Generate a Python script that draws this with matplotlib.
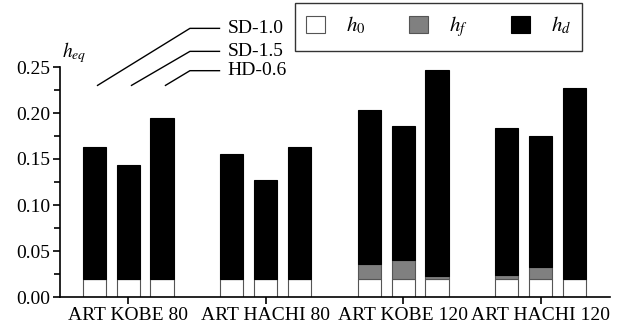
import matplotlib
matplotlib.use("Agg")
import matplotlib.pyplot as plt
import numpy as np

plt.rcParams['font.family'] = ['Liberation Serif', 'DejaVu Serif']
plt.rcParams['mathtext.fontset'] = 'stix'

groups = ['ART KOBE 80', 'ART HACHI 80', 'ART KOBE 120', 'ART HACHI 120']
series = ['SD-1.0', 'SD-1.5', 'HD-0.6']
# total h_eq per bar (group x damper)
total = np.array([[0.163, 0.143, 0.195],
                  [0.155, 0.127, 0.163],
                  [0.203, 0.186, 0.247],
                  [0.184, 0.175, 0.227]])
h0 = np.array([[0.020, 0.020, 0.020],
               [0.020, 0.020, 0.020],
               [0.020, 0.020, 0.020],
               [0.020, 0.020, 0.020]])
hf = np.array([[0.0, 0.0, 0.0],
               [0.0, 0.0, 0.0],
               [0.016, 0.020, 0.003],
               [0.004, 0.013, 0.0]])
hd = total - h0 - hf

fig = plt.figure(figsize=(6.2, 3.34), dpi=100)
ax = fig.add_axes([60/620, 1-297/334, 550/620, 230/334])

x = np.arange(len(groups))
step = 0.247
w = 0.168
for j in range(len(series)):
    xp = x + (j - 1) * step
    ax.bar(xp, h0[:, j], w, color='white', edgecolor='#555555', linewidth=0.8,
           label='$h_0$' if j == 0 else None)
    ax.bar(xp, hf[:, j], w, bottom=h0[:, j], color='#808080', edgecolor='#555555',
           linewidth=0.8, label='$h_f$' if j == 0 else None)
    ax.bar(xp, hd[:, j], w, bottom=h0[:, j] + hf[:, j], color='black',
           edgecolor='black', linewidth=0.8, label='$h_d$' if j == 0 else None)

ax.set_xlim(-0.495, 3.505)
ax.set_ylim(0, 0.25)
ax.set_yticks(np.arange(0, 0.251, 0.05))
ax.set_yticks(np.arange(0.025, 0.25, 0.05), minor=True)
ax.set_yticklabels(['%.2f' % v for v in np.arange(0, 0.251, 0.05)])
ax.set_xticks(x)
ax.set_xticklabels(groups)
ax.tick_params(axis='both', labelsize=14, width=1.2, length=5, direction='out')
ax.tick_params(axis='y', which='minor', width=1.2, length=4)
ax.tick_params(axis='x', pad=2)
ax.tick_params(axis='y', pad=2)
for s in ['top', 'right']:
    ax.spines[s].set_visible(False)
for s in ['left', 'bottom']:
    ax.spines[s].set_linewidth(1.2)

ax.text(0.004, 1.01, '$h_{eq}$', transform=ax.transAxes, fontsize=14, va='bottom')

# leader lines to damper labels
ends = [0.292, 0.267, 0.246]
for j, name in enumerate(series):
    x0 = (j - 1) * step + 0.025
    ax.plot([x0, 0.45, 0.665], [0.230, ends[j], ends[j]], color='black', lw=1,
            clip_on=False)
    ax.text(0.725, ends[j], name, fontsize=14, va='center', ha='left')

leg = ax.legend(loc='upper left', bbox_to_anchor=(295/620, 1-3/334),
                bbox_transform=fig.transFigure, ncol=3, fontsize=15, frameon=True,
                fancybox=False, edgecolor='black', handlelength=0.9, handleheight=0.9,
                columnspacing=2.1, handletextpad=1.0, borderpad=0.55, borderaxespad=0)
leg.get_frame().set_linewidth(1.0)

fig.savefig('out.png', dpi=100)
